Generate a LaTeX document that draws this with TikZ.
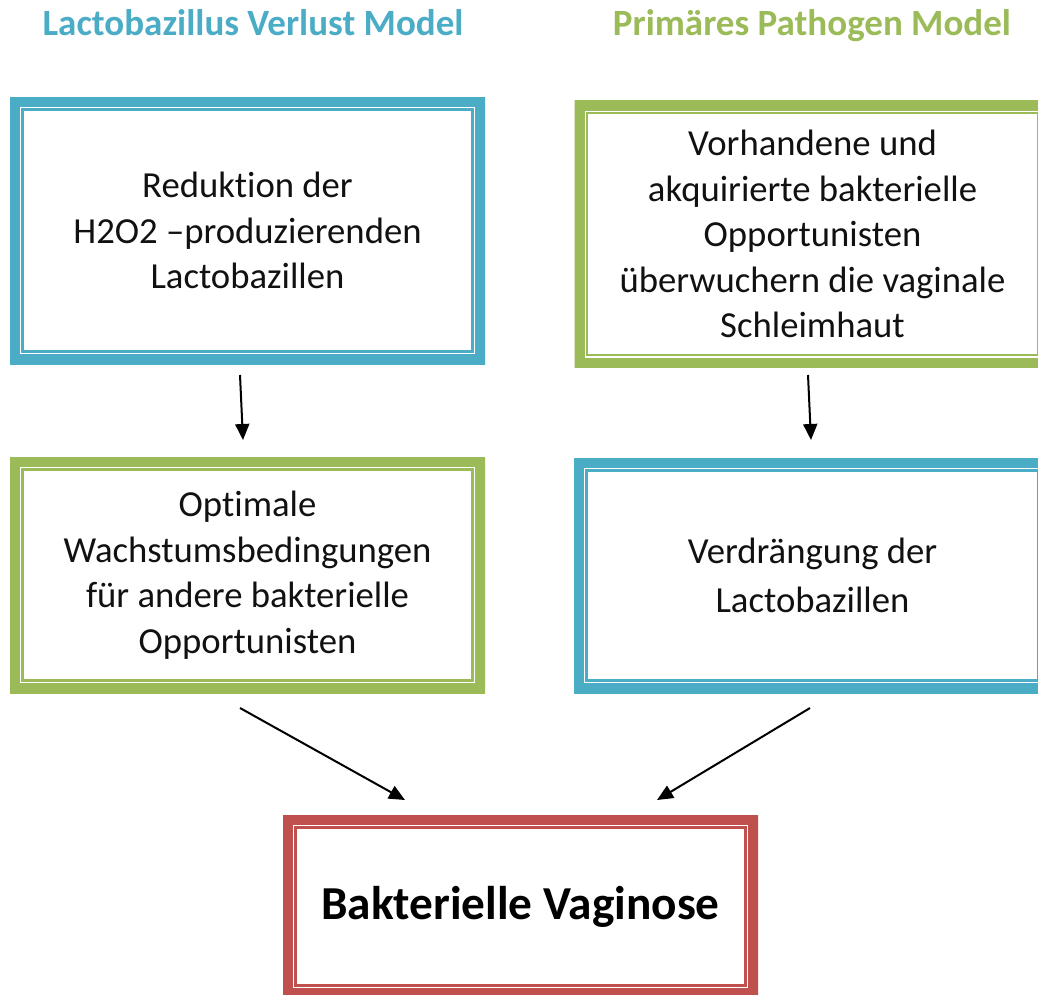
\documentclass[tikz,border=0pt]{standalone}
\usepackage{fontspec}
\setmainfont[Ligatures={NoCommon}]{Carlito}
\usetikzlibrary{arrows.meta}
\definecolor{cblue}{HTML}{4BACC6}
\definecolor{cgreen}{HTML}{9BBB59}
\definecolor{cred}{HTML}{C0504D}
\definecolor{ctext}{HTML}{111111}
\tikzset{
  framebox/.style={draw=none, inner sep=0pt, align=center, text=ctext,
    font=\fontsize{36.7}{45.5}\selectfont,
    path picture={
      \draw[line width=20pt, #1] (path picture bounding box.south west) rectangle (path picture bounding box.north east);
      \draw[line width=2.5pt, #1] ([shift={(12.5pt,12.5pt)}]path picture bounding box.south west) rectangle ([shift={(-12.5pt,-12.5pt)}]path picture bounding box.north east);
    }},
  title/.style={anchor=base, font=\fontsize{37}{45}\selectfont\bfseries},
  flow/.style={line width=2pt, -{Triangle[length=16pt,width=14pt]}}
}
\begin{document}
\begin{tikzpicture}[x=1pt, y=-1pt]
\useasboundingbox (0,0) rectangle (1038,994);
\node[title, text=cblue] (t1) at (253,35) {Lactobazillus Verlust Model};
\node[title, text=cgreen] (t2) at (812,35) {Primäres Pathogen Model};

\node[framebox=cblue, minimum width=475pt, minimum height=267pt] (b1) at (247.5,230.5)
  {Reduktion der\\H2O2 –produzierenden\\Lactobazillen};
\node[framebox=cgreen, minimum width=476pt, minimum height=267pt] (b2) at (812.5,234)
  {Vorhandene und\\akquirierte bakterielle\\Opportunisten\\überwuchern die vaginale\\Schleimhaut};
\node[framebox=cgreen, minimum width=475pt, minimum height=236pt] (b3) at (247.5,575)
  {Optimale\\Wachstumsbedingungen\\für andere bakterielle\\Opportunisten};
\node[framebox=cblue, minimum width=477pt, minimum height=235pt] (b4) at (812.5,575.5)
  {Verdrängung der\\[4pt]Lactobazillen};
\node[framebox=cred, minimum width=475pt, minimum height=183pt, font=\fontsize{47.3}{56}\selectfont\bfseries, text=black] (b5) at (520.5,906.5)
  {Bakterielle Vaginose};

\coordinate (a1s) at (240,375);
\coordinate (a1e) at (243,440);
\coordinate (a2s) at (808,375);
\coordinate (a2e) at (811,440);
\coordinate (a3s) at (240,708);
\coordinate (a3e) at (405,800);
\coordinate (a4s) at (810,708);
\coordinate (a4e) at (657,800);
\draw[flow] (a1s) -- (a1e);
\draw[flow] (a2s) -- (a2e);
\draw[flow] (a3s) -- (a3e);
\draw[flow] (a4s) -- (a4e);
\end{tikzpicture}
\end{document}
